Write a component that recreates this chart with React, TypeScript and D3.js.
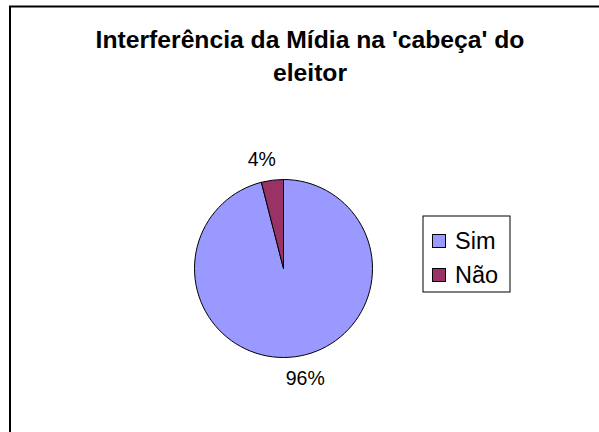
import React from "react";
import * as d3 from "d3";

const categories = ["Sim", "Não"];
const values = [96, 4];
const labels = ["96%", "4%"];
const colors = ["#9999FF", "#993366"];
const titleLines = ["Interferência da Mídia na 'cabeça' do", "eleitor"];

const W = 599;
const H = 432;
const cx = 283.5;
const cy = 268.5;
const radius = 89;
const font = "'Liberation Sans', Arial, sans-serif";

export default function App() {
  const pie = d3
    .pie<number>()
    .sort(null)
    .startAngle(0)
    .endAngle(2 * Math.PI)
    .value((d) => d);
  const arcs = pie(values);
  const arc = d3.arc<d3.PieArcDatum<number>>().innerRadius(0).outerRadius(radius);
  const labelArc = d3
    .arc<d3.PieArcDatum<number>>()
    .innerRadius(radius + 21)
    .outerRadius(radius + 21);

  // legend
  const legendX = 423;
  const legendY = 216;
  const rowY = d3.scaleBand().domain(categories).range([legendY + 8, legendY + 76]);

  return (
    <svg
      width={W}
      height={H}
      style={{ position: "absolute", left: 0, top: 0, background: "#fff" }}
    >
      <rect x={10} y={6.5} width={W + 20} height={H + 20} fill="#fff" stroke="#000" strokeWidth={2} />

      <g fontFamily={font} fontWeight="bold" fontSize={24.7} textAnchor="middle" fill="#000">
        {titleLines.map((t, i) => (
          <text key={t} x={310} y={47.5 + i * 33}>
            {t}
          </text>
        ))}
      </g>

      <g transform={`translate(${cx},${cy})`}>
        {arcs.map((a, i) => (
          <path key={categories[i]} d={arc(a) || ""} fill={colors[i]} stroke="#000" strokeWidth={1} />
        ))}
        {arcs.map((a, i) => {
          const [x, y] = labelArc.centroid(a);
          return (
            <text
              key={labels[i]}
              x={x + Math.sign(x) * 8}
              y={y}
              dy="0.36em"
              textAnchor="middle"
              fontFamily={font}
              fontSize={19.5}
              fill="#000"
            >
              {labels[i]}
            </text>
          );
        })}
      </g>

      <rect x={legendX} y={legendY} width={87} height={76} fill="#fff" stroke="#000" strokeWidth={1} />
      {categories.map((c, i) => {
        const y = (rowY(c) || 0) + rowY.bandwidth() / 2;
        return (
          <g key={c}>
            <rect x={432.5} y={y - 6.5} width={13} height={13} fill={colors[i]} stroke="#000" strokeWidth={1} />
            <text x={455} y={y} dy="0.36em" fontFamily={font} fontSize={23.5} fill="#000">
              {c}
            </text>
          </g>
        );
      })}
    </svg>
  );
}
